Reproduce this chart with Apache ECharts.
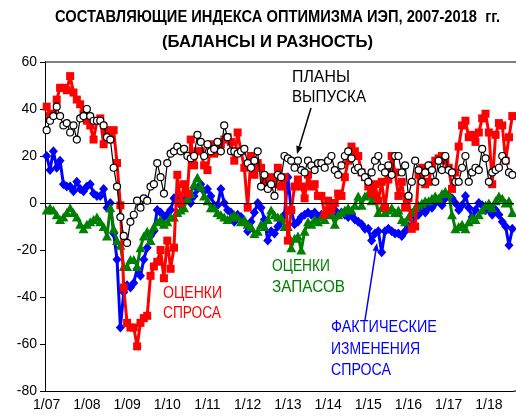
<!DOCTYPE html>
<html><head><meta charset="utf-8">
<script src="https://cdn.jsdelivr.net/npm/echarts@6/dist/echarts.min.js"></script>
<style>html,body{margin:0;padding:0;background:#fff}#c{width:516px;height:416px}</style>
</head><body><div id="c"></div>
<script>
// ---- DATA ----
const years = ['07','08','09','10','11','12','13','14','15','16','17','18'];
const monthsInLastYear = 8;
const yTicks = {min: -80, max: 60, step: 20};

const plansOutput = [
 31,35,37,41,37,33,34,30,33,27,36,37,
 40,37,35,35,35,33,28,27,15,7,-6,-14,
 -17,-8,-5,1,-2,2,1,7,8,17,11,4,
 17,21,22,24,22,23,20,19,20,29,26,20,
 25,22,23,26,22,33,28,22,22,21,22,23,
 17,15,18,22,7,12,6,8,3,12,11,20,
 19,18,15,18,14,13,18,16,14,17,17,15,
 18,20,14,12,16,20,22,19,14,15,13,11,
 9,13,18,20,15,13,16,12,20,20,13,16,
 3,9,18,14,9,13,16,14,9,18,14,20,
 14,13,9,9,15,20,9,13,15,14,23,19,
 9,13,14,15,20,18,13,12];

const demandEstimates = [
 41,37,38,44,49,49,48,54,47,44,42,38,
 35,33,27,35,36,25,31,27,31,17,-1,-36,
 -51,-53,-53,-61,-51,-49,-48,-31,-27,-25,-20,-32,
 -16,-28,-19,12,0,8,4,27,16,22,22,16,
 14,25,21,22,25,27,28,26,18,30,22,15,
 -2,20,12,17,15,9,7,11,8,15,7,11,
 -16,-3,7,10,7,2,12,7,8,3,3,-5,
 1,-3,0,4,3,11,18,24,22,20,13,11,
 7,4,8,1,9,-2,10,20,13,3,9,-2,
 2,-11,-10,12,15,8,9,16,18,19,20,18,
 15,6,13,24,33,35,28,29,26,30,36,38,
 30,8,29,34,33,18,28,37];

const inventoryEstimates = [
 -3,-2,-3,-5,-7,-6,-4,-2,-4,-6,-9,-11,
 -9,-8,-7,-6,-8,-10,-14,-2,-11,-16,-18,-27,
 -27,-24,-24,-27,-19,-14,-12,-16,-10,-8,-7,-9,
 -8,-6,-6,-4,-3,-2,2,4,8,11,7,3,
 1,-2,-2,-4,-5,-6,-7,-6,-5,-6,-8,-7,
 -9,-10,-13,-12,-9,-10,-7,-3,-5,-6,-6,-10,
 -10,-19,-15,-14,-20,-12,-8,-9,-7,-8,-6,-7,
 -3,-5,-9,-5,-4,-3,-2,-3,-1,3,-1,3,
 4,1,3,-4,-2,-4,-3,-2,-4,-3,-7,-8,
 -6,-4,-2,-1,0,1,1,2,3,2,4,5,
 4,-5,-11,-10,-9,-11,-8,-6,-7,-5,-3,-1,
 0,-2,1,3,2,0,1,-4];

const actualDemandChanges = [
 20,14,22,15,18,8,7,7,5,9,6,5,
 7,8,4,3,3,6,-2,0,-13,-24,-53,-38,
 -35,-36,-34,-28,-31,-24,-19,-14,-12,-3,-4,-6,
 -5,-3,2,3,-1,1,3,0,3,6,8,5,
 6,3,-1,-1,6,0,-3,-4,-8,-5,-6,-8,
 -12,-8,-4,0,-2,-7,-16,-12,-13,-10,-8,-5,
 11,-3,-9,-8,-6,-5,-4,-5,-4,-6,-5,-5,
 -4,-3,-3,-5,-4,-5,-6,-5,-7,-8,-9,-11,
 -11,-16,-13,-12,-21,-12,-11,-12,-13,-13,-14,-12,
 -10,-10,-6,-5,-3,-4,-2,-2,0,1,-1,2,
 3,2,0,-3,-1,3,-2,-6,-3,0,-1,-3,
 -3,-5,-3,-5,-8,-10,-18,-11];

const titleLines = ['СОСТАВЛЯЮЩИЕ ИНДЕКСА ОПТИМИЗМА ИЭП, 2007-2018  гг.', '(БАЛАНСЫ И РАЗНОСТЬ)'];
const labelPlans = ['ПЛАНЫ', 'ВЫПУСКА'];
const labelDemand = ['ОЦЕНКИ', 'СПРОСА'];
const labelInventory = ['ОЦЕНКИ', 'ЗАПАСОВ'];
const labelActual = ['ФАКТИЧЕСКИЕ', 'ИЗМЕНЕНИЯ', 'СПРОСА'];

// categories
const categories = [];
years.forEach((y, k) => {
  const n = (k === years.length - 1) ? monthsInLastYear : 12;
  for (let m = 1; m <= n; m++) categories.push(m + '/' + y);
});

// ---- LAYOUT / STYLE ----
const FONT = '"Liberation Sans", Arial, sans-serif';
const G = {left: 45, top: 62, right: 2, bottom: 25};
const W = 516, H = 416;
const ctx = document.createElement('canvas').getContext('2d');
function fit(text, font, width) { ctx.font = font; return width / ctx.measureText(text).width; }
function txt(text, x, y, size, color, width, bold, align) {
  const font = (bold ? 'bold ' : '') + size + 'px ' + FONT;
  return {type: 'text', x: x, y: y, scaleX: fit(text, font, width), z: 100,
    style: {text: text, font: font, fill: color, textAlign: align || 'left', textVerticalAlign: 'middle'}};
}
function arrow(x1, y1, x2, y2, color) {
  const a = Math.atan2(y2 - y1, x2 - x1), L = 8, Wd = 3.2;
  const bx = x2 - L * Math.cos(a), by = y2 - L * Math.sin(a);
  const px = -Math.sin(a) * Wd, py = Math.cos(a) * Wd;
  return [
    {type: 'line', z: 100, shape: {x1: x1, y1: y1, x2: bx, y2: by}, style: {stroke: color, lineWidth: 1.5}},
    {type: 'polygon', z: 100, shape: {points: [[x2, y2], [bx + px, by + py], [bx - px, by - py]]}, style: {fill: color}}
  ];
}

const chart = echarts.init(document.getElementById('c'), null, {renderer: 'canvas'});
const gx2 = W - G.right;
const yTop = G.top, yBot = H - G.bottom;
const graphics = [
  txt(titleLines[0], 55, 18, 16, '#000', 445, true),
  txt(titleLines[1], 162, 43, 16, '#000', 211, true),
  txt(labelPlans[0], 292, 77, 17, '#000', 58),
  txt(labelPlans[1], 292, 97, 17, '#000', 74),
  txt(labelDemand[0], 163, 293, 17, '#ff0000', 59),
  txt(labelDemand[1], 163, 313, 17, '#ff0000', 58),
  txt(labelInventory[0], 272, 266, 17, '#008000', 58),
  txt(labelInventory[1], 272, 287, 17, '#008000', 73),
  txt(labelActual[0], 331, 327, 17, '#0000ff', 106),
  txt(labelActual[1], 331, 349, 17, '#0000ff', 89),
  txt(labelActual[2], 331, 370, 17, '#0000ff', 60),
  {type: 'line', z: 50, shape: {x1: G.left, y1: yTop, x2: W, y2: yTop}, style: {stroke: '#000', lineWidth: 1}},
  {type: 'line', z: 50, shape: {x1: gx2, y1: yBot, x2: W, y2: yBot}, style: {stroke: '#000', lineWidth: 1}}
].concat(arrow(311, 108, 297, 154, '#000'), arrow(365, 320, 377, 243, '#0000ff'));

function lineSeries(name, data, color, width, symbol, size, extra) {
  return Object.assign({
    name: name, type: 'line', data: data, symbol: symbol, symbolSize: size,
    showAllSymbol: true, animation: false,
    lineStyle: {color: color, width: width},
    itemStyle: {color: color}
  }, extra || {});
}

chart.setOption({
  animation: false,
  backgroundColor: '#fff',
  grid: {left: G.left, right: G.right, top: G.top, bottom: G.bottom, containLabel: false},
  xAxis: [{
    type: 'category', data: categories, boundaryGap: true,
    axisLine: {onZero: false, lineStyle: {color: '#000', width: 1}},
    axisTick: {interval: 2, length: 3, lineStyle: {color: '#000'}},
    axisLabel: {interval: 0, color: '#000', fontSize: 14, fontFamily: FONT, margin: 7,
      formatter: v => (v.indexOf('1/') === 0 ? v : ''),
      showMaxLabel: true, showMinLabel: true, hideOverlap: false},
    splitLine: {show: false}
  }, {
    type: 'category', data: categories, boundaryGap: true, position: 'bottom',
    axisLine: {show: false, onZero: false},
    axisTick: {interval: 2, length: 3, inside: true, lineStyle: {color: '#000'}},
    axisLabel: {show: false}, splitLine: {show: false}
  }],
  yAxis: {
    type: 'value', min: yTicks.min, max: yTicks.max, interval: yTicks.step,
    axisLine: {show: true, lineStyle: {color: '#000'}},
    axisTick: {show: true, length: 5, lineStyle: {color: '#000'}},
    axisLabel: {color: '#000', fontSize: 14, fontFamily: FONT, margin: 8},
    splitLine: {show: false}
  },
  series: [
    lineSeries('Фактические изменения спроса', actualDemandChanges, '#0000ff', 3, 'diamond', [9, 10], {z: 2,
      markLine: {silent: true, symbol: 'none', label: {show: false}, animation: false,
        lineStyle: {color: '#000', width: 1, type: 'solid'}, data: [{yAxis: 0}]}}),
    lineSeries('Оценки запасов', inventoryEstimates, '#008000', 3, 'triangle', [10, 9], {z: 3}),
    lineSeries('Оценки спроса', demandEstimates, '#ff0000', 3, 'rect', 8, {z: 4}),
    lineSeries('Планы выпуска', plansOutput, '#000', 1.2, 'circle', 7, {z: 5,
      itemStyle: {color: '#fff', borderColor: '#000', borderWidth: 1.2}})
  ],
  graphic: graphics
});
</script>
</body></html>
